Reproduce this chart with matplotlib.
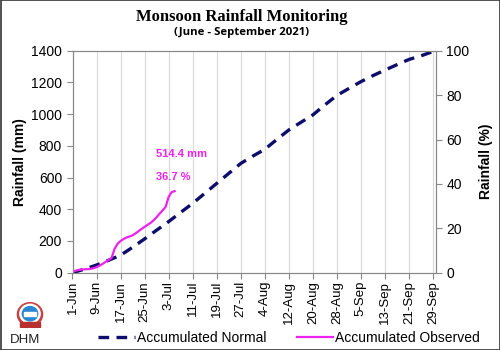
import matplotlib
matplotlib.use("Agg")
import matplotlib.pyplot as plt
import matplotlib.patches as mpatches
import numpy as np
import pandas as pd

# ---- data ----
start = pd.Timestamp("2021-06-01")
normal_days = [0, 4, 8, 12, 16, 20, 24, 28, 32, 36, 40, 44, 48, 52, 56, 60,
               64, 68, 72, 76, 80, 84, 88, 92, 96, 100, 104, 108, 112, 116, 120, 121]
normal_mm = [0, 22, 48, 78, 110, 160, 213, 268, 322, 380, 437, 500, 563, 626, 689, 735,
             778, 840, 900, 948, 995, 1058, 1118, 1162, 1205, 1243, 1278, 1312, 1345, 1368, 1395, 1402]
observed_mm = [5, 12, 17, 19, 21, 22, 24, 28, 34, 44, 55, 68, 80, 92, 150, 182,
               200, 212, 222, 228, 236, 248, 262, 276, 289, 302, 314, 330, 350, 372,
               393, 415, 478, 508, 514.4]
tick_labels = ["1-Jun", "9-Jun", "17-Jun", "25-Jun", "3-Jul", "11-Jul", "19-Jul", "27-Jul",
               "4-Aug", "12-Aug", "20-Aug", "28-Aug", "5-Sep", "13-Sep", "21-Sep", "29-Sep"]
ann_mm = "514.4 mm"
ann_pct = "36.7 %"

normal_dates = [start + pd.Timedelta(days=d) for d in normal_days]
obs_dates = pd.date_range(start, periods=len(observed_mm), freq="D")
tick_dates = pd.date_range(start, periods=len(tick_labels), freq="8D")

plt.rcParams['font.family'] = ['Liberation Sans', 'DejaVu Sans']

fig = plt.figure(figsize=(5, 3.5), dpi=100)
ax = fig.add_axes([0.145, 0.221, 0.727, 0.634])

navy = "#0d0d6b"
mag = "#ee22ee"

ax.plot(normal_dates, normal_mm, color=navy, lw=2.4, linestyle=(0, (3.2, 2.2)),
        label="Accumulated Normal", zorder=3)
ax.plot(obs_dates, observed_mm, color=mag, lw=1.6, label="Accumulated Observed", zorder=4)

ax.set_xlim(start, start + pd.Timedelta(days=121))
ax.set_ylim(0, 1400)
ax.set_yticks(np.arange(0, 1401, 200))
ax.set_xticks(tick_dates)
ax.set_xticklabels(tick_labels, rotation=90, fontsize=9.5)
ax.tick_params(axis='y', labelsize=10, length=4, color="#888888")
ax.tick_params(axis='x', length=4, color="#888888", pad=2)
ax.grid(axis='x', color="#d9d9d9", lw=0.8)
ax.set_axisbelow(True)
for s in ax.spines.values():
    s.set_color("#888888")
ax.set_ylabel("Rainfall (mm)", fontsize=10, fontweight='bold', labelpad=3)

ax2 = ax.twinx()
ax2.set_ylim(0, 100)
ax2.set_yticks(np.arange(0, 101, 20))
ax2.tick_params(axis='y', labelsize=10, length=4, color="#888888")
for s in ax2.spines.values():
    s.set_color("#888888")
ax2.set_ylabel("Rainfall (%)", fontsize=10, fontweight='bold', labelpad=7)

# annotations
fig.text(156 / 500, 1 - 154 / 350, ann_mm, color=mag, fontsize=8, fontweight='bold',
         ha='left', va='center')
fig.text(156 / 500, 1 - 177 / 350, ann_pct, color=mag, fontsize=8, fontweight='bold',
         ha='left', va='center')

# titles
fig.text(242 / 500, 1 - 17 / 350, "Monsoon Rainfall Monitoring", fontsize=12, fontweight='bold',
         family=['Liberation Serif'], ha='center', va='center')
fig.text(242 / 500, 1 - 33 / 350, "(June - September 2021)", fontsize=8.2, fontweight='bold',
         family=['Open Sans'], ha='center', va='center')

# legend
handles, labels = ax.get_legend_handles_labels()
fig.legend(handles, labels, loc='center', bbox_to_anchor=(289 / 500, 1 - 338 / 350), ncol=2,
           frameon=False, fontsize=10, handlelength=2.6, columnspacing=2.2, handletextpad=0.15)

# DHM logo (simplified emblem)
lax = fig.add_axes([16 / 500, 1 - 328 / 350, 28 / 500, 26 / 350])
lax.set_xlim(-1, 1)
lax.set_ylim(-1, 1)
lax.axis('off')
lax.add_patch(mpatches.Ellipse((0, 0.05), 1.8, 1.8, color="#c84040"))
lax.add_patch(mpatches.Ellipse((0, 0.1), 1.45, 1.45, color="#ffffff"))
lax.add_patch(mpatches.Ellipse((0, 0.1), 1.1, 1.1, color="#2a86d0"))
lax.add_patch(mpatches.Rectangle((-0.45, -0.05), 0.9, 0.3, color="#ffffff"))
lax.add_patch(mpatches.Rectangle((-0.7, -0.9), 1.4, 0.35, color="#b83030"))
fig.text(25 / 500, 1 - 340 / 350, "DHM", fontsize=9.5, ha='center', va='center', color="#222222")

# outer border
fig.patches.append(mpatches.Rectangle((0.001, 0.001), 0.998, 0.998, transform=fig.transFigure,
                                      fill=False, edgecolor="#333333", lw=1.2))

fig.savefig("out.png", dpi=100)
